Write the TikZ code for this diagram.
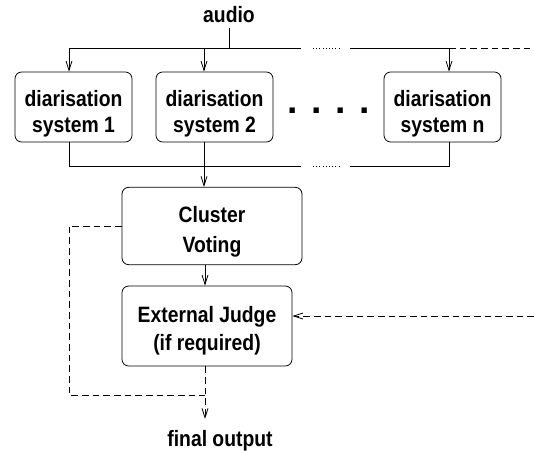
\documentclass[tikz,border=0pt]{standalone}
\usepackage{fontspec}
\setmainfont{Liberation Sans}
\usetikzlibrary{arrows.meta}
\newcommand{\tx}[1]{\scalebox{1}[1.15]{#1}}
\newcommand{\dn}[1]{\rule{0pt}{#1}}
\begin{document}
\begin{tikzpicture}[x=0.75pt,y=-0.75pt,
  every node/.style={font=\bfseries\fontsize{14.5}{17}\selectfont},
  sysbox/.style={draw,rounded corners=5pt,line width=0.6pt,inner sep=0pt,align=center},
  conn/.style={line width=0.6pt},
  arr/.style={conn,-{Straight Barb[length=7pt,width=4.5pt]}},
  dashln/.style={conn,dash pattern=on 5pt off 3pt},
  dotln/.style={conn,dash pattern=on 0.8pt off 1.6pt}]
\useasboundingbox (0,0) rectangle (534,450);
% nodes
\node (audio) at (229,15) {\tx{audio}};
\node[sysbox,minimum width=87.75pt,minimum height=52.5pt] (s1) at (73.5,107) {\dn{22pt}\tx{diarisation}\\[2.5pt]\tx{system 1}};
\node[sysbox,minimum width=87.75pt,minimum height=52.5pt] (s2) at (214.5,107) {\dn{22pt}\tx{diarisation}\\[2.5pt]\tx{system 2}};
\node[sysbox,minimum width=87.75pt,minimum height=52.5pt] (sn) at (442.5,107) {\dn{22pt}\tx{diarisation}\\[2.5pt]\tx{system n}};
\node[font=\bfseries\fontsize{28}{30}\selectfont] (dots) at (328.5,111) {. . . .};
\node[sysbox,minimum width=135pt,minimum height=58pt] (cv) at (212,226) {\dn{21pt}\tx{Cluster}\\[5pt]\tx{Voting}};
\node[sysbox,minimum width=127.5pt,minimum height=60pt] (ej) at (207,326) {\dn{19pt}\tx{External Judge}\hspace{6pt}\\[4.5pt]\tx{(if required)}};
\node (out) at (220,441) {\tx{final output}};
% coordinates
\coordinate (tA) at (229,48);
\coordinate (tL) at (69,48);
\coordinate (tM) at (204,48);
\coordinate (tN) at (449,48);
\coordinate (tE) at (534,48);
\coordinate (bL) at (69,166);
\coordinate (bM) at (204,166);
\coordinate (bN) at (449,166);
\coordinate (inE) at (534,316);
\coordinate (lpA) at (69,226);
\coordinate (lpB) at (69,395);
\coordinate (lpC) at (205,395);
\coordinate (fin) at (205,419);
% top bus
\draw[conn] (audio.south) -- (tA);
\draw[conn] (tL) -- (301,48);
\draw[dotln] (313,48) -- (340,48);
\draw[conn] (350,48) -- (tN);
\draw[dashln] (tN) -- (tE);
\draw[arr] (tL) -- (tL |- s1.north);
\draw[arr] (tM) -- (tM |- s2.north);
\draw[arr] (tN) -- (tN |- sn.north);
% bottom bus
\draw[conn] (bL |- s1.south) -- (bL) -- (301,166);
\draw[dotln] (313,166) -- (340,166);
\draw[conn] (350,166) -- (bN) -- (bN |- sn.south);
\draw[arr] (bM |- s2.south) -- (bM |- cv.north);
% cluster to judge
\draw[arr] (lpC |- cv.south) -- (lpC |- ej.north);
% dashed paths
\draw[dashln] (cv.west |- lpA) -- (lpA) -- (lpB) -- (lpC);
\draw[dashln,-{Straight Barb[length=7pt,width=4.5pt]}] (lpC |- ej.south) -- (fin);
\draw[dashln,-{Straight Barb[length=7pt,width=4.5pt]}] (inE) -- (ej.east |- inE);
\end{tikzpicture}
\end{document}
